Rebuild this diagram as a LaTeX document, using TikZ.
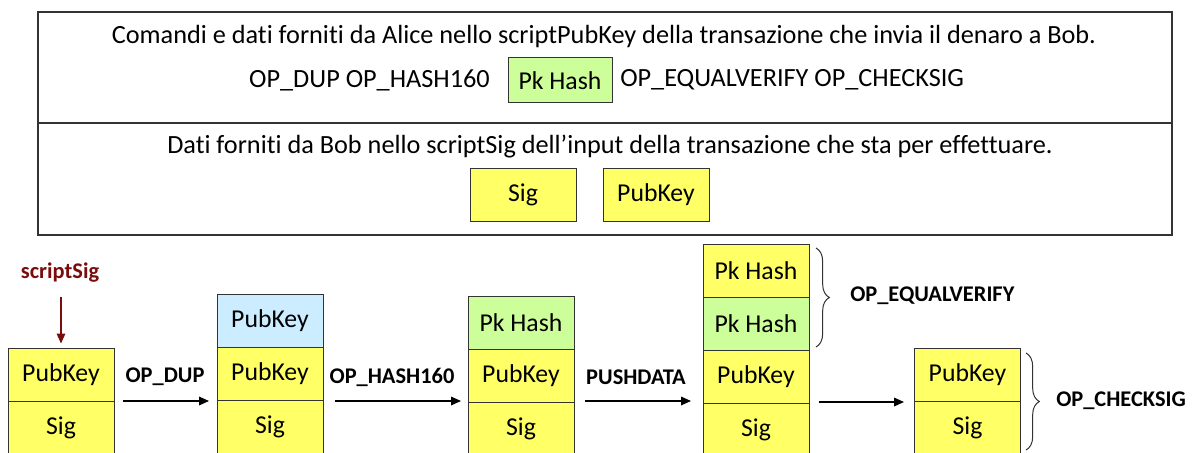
\documentclass[tikz,border=0pt]{standalone}
\usepackage{fontspec}
\setmainfont[RawFeature={-liga;-dlig;-calt}]{Carlito}
\usetikzlibrary{arrows.meta,decorations.pathreplacing}
\definecolor{cellyellow}{HTML}{FFFF66}
\definecolor{cellgreen}{HTML}{CCFF99}
\definecolor{cellblue}{HTML}{CCECFF}
\definecolor{sigred}{HTML}{7A0C0C}
\definecolor{edge}{HTML}{333333}
\tikzset{
  cell/.style={draw=edge, line width=0.75pt, minimum width=79.5pt, minimum height=39.75pt,
    inner sep=0pt, font=\fontsize{19.3}{22}\selectfont, anchor=center},
  ycell/.style={cell, fill=cellyellow},
  gcell/.style={cell, fill=cellgreen},
  bcell/.style={cell, fill=cellblue},
  txt/.style={font=\fontsize{19.7}{22}\selectfont, inner sep=0pt},
  oplabel/.style={font=\bfseries\fontsize{16.8}{19}\selectfont, inner sep=0pt},
  panel/.style={draw=edge, line width=0.9pt},
  flow/.style={draw=black, line width=0.9pt, -{Triangle[length=7.5pt,width=6.5pt]}},
  curly/.style={draw=edge, line width=0.75pt, decorate, decoration={brace, amplitude=10pt}},
}
\begin{document}
\begin{tikzpicture}[x=0.75pt, y=-0.75pt]
\useasboundingbox (0,0) rectangle (1200,453);
\clip (0,0) rectangle (1200,453);

% upper panel: locking script and unlocking data
\draw[panel] (38,12) rectangle (1172,123);
\draw[panel] (38,123) rectangle (1172,235);

\node[txt] (lockline) at (604,36) {Comandi e dati forniti da Alice nello scriptPubKey della transazione che invia il denaro a Bob.};
\node[txt, anchor=east] (lockops) at (490,80) {OP\_DUP OP\_HASH160};
\node[cell, fill=cellgreen, minimum width=78pt, minimum height=33.75pt] (lockhash) at (560,80.5) {Pk Hash};
\node[txt, anchor=west] (lockops2) at (620,80) {OP\_EQUALVERIFY OP\_CHECKSIG};

\node[txt] (unlockline) at (610,146) {Dati forniti da Bob nello scriptSig dell’input della transazione che sta per effettuare.};
\node[ycell] (usig) at (523,194.5) {Sig};
\node[ycell] (upub) at (656,194.5) {PubKey};

% stack 1: after scriptSig
\node[font=\bfseries\fontsize{16.8}{19}\selectfont, text=sigred, inner sep=0pt] (ss) at (60,273) {scriptSig};
\node[ycell] (s1pub) at (61,374.5) {PubKey};
\node[ycell] (s1sig) at (61,427.5) {Sig};
\coordinate (ssfoot) at (61,297);
\draw[draw=sigred, line width=0.9pt, -{Triangle[length=7.5pt,width=6.5pt]}]
  (ssfoot) -- ([yshift=3pt]s1pub.north);

% stack 2: after OP_DUP
\node[bcell] (s2dup) at (270,320.5) {PubKey};
\node[ycell] (s2pub) at (270,373.5) {PubKey};
\node[ycell] (s2sig) at (270,426.5) {Sig};

% stack 3: after OP_HASH160
\node[gcell] (s3hash) at (521,322.5) {Pk Hash};
\node[ycell] (s3pub) at (521,375.5) {PubKey};
\node[ycell] (s3sig) at (521,428.5) {Sig};

% stack 4: after PUSHDATA
\node[ycell] (s4push) at (756,270.5) {Pk Hash};
\node[gcell] (s4hash) at (756,323.5) {Pk Hash};
\node[ycell] (s4pub) at (756,376.5) {PubKey};
\node[ycell] (s4sig) at (756,429.5) {Sig};

% stack 5: after OP_EQUALVERIFY
\node[ycell] (s5pub) at (967.5,374.5) {PubKey};
\node[ycell] (s5sig) at (967.5,427.5) {Sig};

% transitions
\coordinate (a1s) at (123,401); \coordinate (a1e) at (209,401);
\coordinate (a2s) at (335,401); \coordinate (a2e) at (461,401);
\coordinate (a3s) at (585,401); \coordinate (a3e) at (691,401);
\coordinate (a4s) at (819,402); \coordinate (a4e) at (904,402);
\draw[flow] (a1s) -- (a1e);
\draw[flow] (a2s) -- (a2e);
\draw[flow] (a3s) -- (a3e);
\draw[flow] (a4s) -- (a4e);
\node[oplabel] (l1) at (165,377) {OP\_DUP};
\node[oplabel] (l2) at (392,377) {OP\_HASH160};
\node[oplabel] (l3) at (636,377) {PUSHDATA};

% braces for the two checks
\coordinate (b1t) at (816,248); \coordinate (b1b) at (816,347);
\coordinate (b2t) at (1026,353); \coordinate (b2b) at (1026,450);
\draw[curly] (b1t) -- (b1b);
\draw[curly] (b2t) -- (b2b);
\node[oplabel, anchor=west] (l4) at (850,296) {OP\_EQUALVERIFY};
\node[oplabel, anchor=west] (l5) at (1056,401) {OP\_CHECKSIG};
\end{tikzpicture}
\end{document}
